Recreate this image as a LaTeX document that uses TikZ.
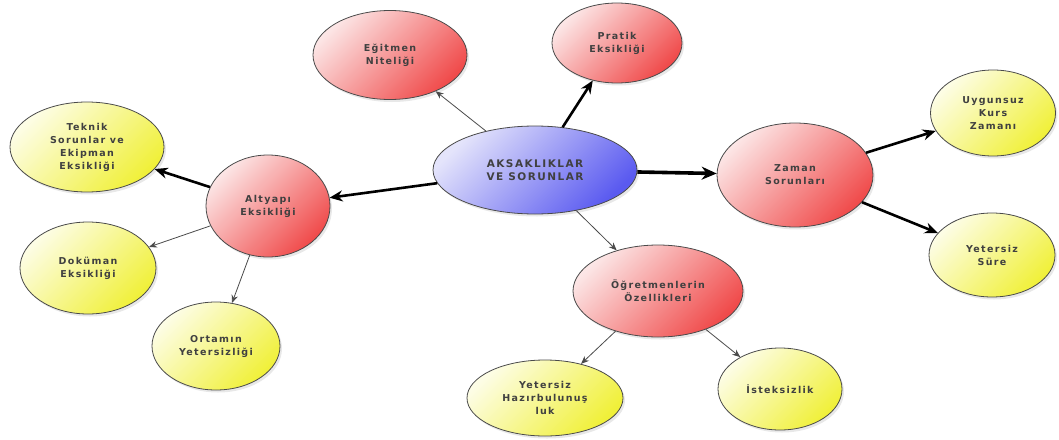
\documentclass[tikz,border=0pt]{standalone}
\usepackage{fontspec}
\setmainfont{DejaVu Sans}[LetterSpace=14]
\usetikzlibrary{arrows.meta,shapes.geometric,shadows}
\definecolor{txt}{HTML}{404040}
\definecolor{edge}{HTML}{4A4A4A}
\definecolor{blueL}{HTML}{E4E4FB}
\definecolor{blueD}{HTML}{5A5AF0}
\definecolor{redL}{HTML}{FCE6E6}
\definecolor{redD}{HTML}{F04A4A}
\definecolor{yelL}{HTML}{FDFDE6}
\definecolor{yelD}{HTML}{F0F038}
\tikzset{
  bub/.style={ellipse, draw=edge, line width=0.8pt, inner sep=0pt, align=center,
    text=txt, font=\bfseries\fontsize{9.5}{13}\selectfont,
    drop shadow={shadow xshift=2pt, shadow yshift=-2.5pt, opacity=0.18}},
  bluebub/.style={bub, top color=blueL, bottom color=blueD, shading angle=45},
  redbub/.style={bub, top color=redL, bottom color=redD, shading angle=45},
  yelbub/.style={bub, top color=yelL, bottom color=yelD, shading angle=45},
  thick arr/.style={draw=black, line width=2.6pt, -{Stealth[length=13pt,width=11pt]}},
  heavy arr/.style={draw=black, line width=3.6pt, -{Stealth[length=15pt,width=13pt]}},
  thin arr/.style={draw=edge, line width=0.8pt, -{Stealth[length=8pt,width=6.5pt]}},
}
\begin{document}
\begin{tikzpicture}[x=1pt,y=-1pt]
\useasboundingbox (0,0) rectangle (1059,439);
\node[bluebub, minimum width=204pt, minimum height=88pt, font=\bfseries\fontsize{10.5}{13}\selectfont] (c) at (535,170) {AKSAKLIKLAR\\VE SORUNLAR};
\node[redbub, minimum width=154pt, minimum height=89pt] (egit) at (390,55) {Eğitmen\\Niteliği};
\node[redbub, minimum width=130pt, minimum height=80pt] (prat) at (617,43) {Pratik\\Eksikliği};
\node[redbub, minimum width=156pt, minimum height=104pt] (zam) at (795,175) {Zaman\\Sorunları};
\node[yelbub, minimum width=125pt, minimum height=86pt] (uyg) at (993,113) {Uygunsuz\\Kurs\\Zamanı};
\node[yelbub, minimum width=126pt, minimum height=84pt] (yets) at (992,255) {Yetersiz\\Süre};
\node[redbub, minimum width=170pt, minimum height=92pt] (ogr) at (658,291) {Öğretmenlerin\\Özellikleri};
\node[yelbub, minimum width=156pt, minimum height=76pt] (hazir) at (545,398) {Yetersiz\\Hazırbulunuş\\luk};
\node[yelbub, minimum width=124pt, minimum height=82pt] (ist) at (780,389) {İsteksizlik};
\node[redbub, minimum width=124pt, minimum height=102pt] (alt) at (268,206) {Altyapı\\Eksikliği};
\node[yelbub, minimum width=154pt, minimum height=90pt] (tek) at (87,147) {Teknik\\Sorunlar ve\\Ekipman\\Eksikliği};
\node[yelbub, minimum width=136pt, minimum height=92pt] (dok) at (88,268) {Doküman\\Eksikliği};
\node[yelbub, minimum width=128pt, minimum height=88pt] (ort) at (216,346) {Ortamın\\Yetersizliği};

\draw[heavy arr] (c) -- (zam);
\draw[thick arr] (c) -- (prat);
\draw[thick arr] (c) -- (alt);
\draw[thin arr] (c) -- (egit);
\draw[thin arr] (c) -- (ogr);
\draw[thick arr] (zam) -- (uyg);
\draw[thick arr] (zam) -- (yets);
\draw[thick arr] (alt) -- (tek);
\draw[thin arr] (alt) -- (dok);
\draw[thin arr] (alt) -- (ort);
\draw[thin arr] (ogr) -- (hazir);
\draw[thin arr] (ogr) -- (ist);
\end{tikzpicture}
\end{document}
